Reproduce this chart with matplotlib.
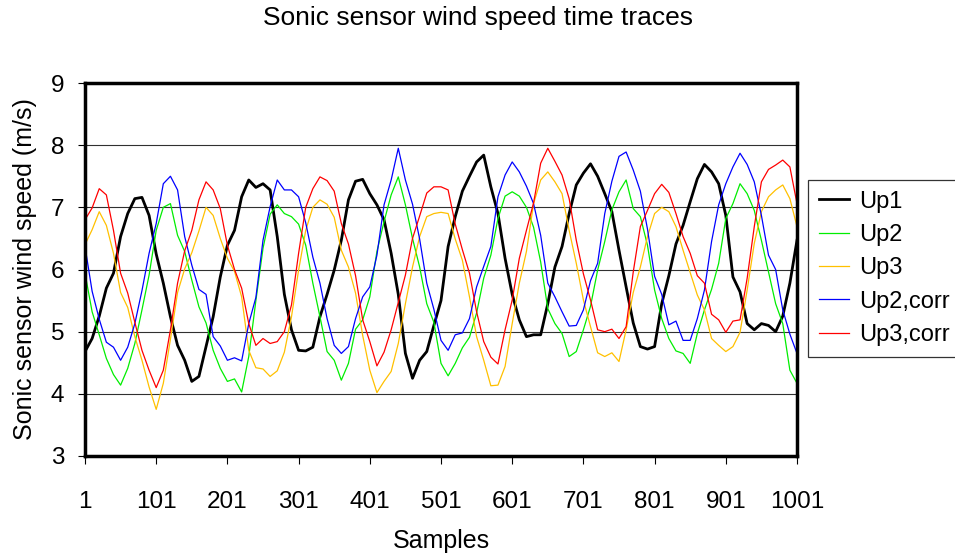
import matplotlib
matplotlib.use("Agg")
import matplotlib.pyplot as plt

plt.rcParams['font.family'] = ['Liberation Sans', 'DejaVu Sans']

samples = list(range(1, 1002, 10))

up1 = [4.68, 4.89, 5.25, 5.70, 5.94, 6.53, 6.90, 7.14, 7.16, 6.87,
       6.25, 5.78, 5.24, 4.78, 4.54, 4.20, 4.28, 4.76, 5.24, 5.88,
       6.39, 6.63, 7.17, 7.44, 7.32, 7.38, 7.28, 6.53, 5.60, 5.03,
       4.70, 4.69, 4.75, 5.24, 5.60, 5.99, 6.47, 7.12, 7.42, 7.45,
       7.22, 7.04, 6.80, 6.26, 5.60, 4.65, 4.25, 4.54, 4.68, 5.10,
       5.50, 6.37, 6.85, 7.26, 7.50, 7.73, 7.84, 7.33, 6.90, 6.18,
       5.60, 5.19, 4.92, 4.95, 4.95, 5.45, 6.04, 6.37, 6.90, 7.36,
       7.55, 7.70, 7.50, 7.22, 6.93, 6.31, 5.72, 5.14, 4.76, 4.72,
       4.76, 5.45, 5.90, 6.41, 6.71, 7.09, 7.46, 7.69, 7.57, 7.38,
       6.87, 5.88, 5.64, 5.13, 5.03, 5.13, 5.10, 5.00, 5.25, 5.78,
       6.47]
up2 = [5.94, 5.32, 4.95, 4.57, 4.31, 4.14, 4.41, 4.81, 5.35, 5.91,
       6.63, 7.00, 7.06, 6.55, 6.29, 5.83, 5.40, 5.14, 4.70, 4.41,
       4.20, 4.24, 4.03, 4.60, 5.50, 6.34, 6.89, 7.04, 6.90, 6.85,
       6.73, 6.39, 5.78, 5.24, 4.68, 4.54, 4.22, 4.49, 5.04, 5.19,
       5.56, 6.29, 6.77, 7.20, 7.49, 7.04, 6.50, 6.04, 5.45, 5.15,
       4.49, 4.29, 4.49, 4.74, 4.91, 5.30, 5.86, 6.23, 6.82, 7.18,
       7.25, 7.18, 7.00, 6.68, 6.12, 5.37, 5.13, 4.97, 4.60, 4.68,
       5.03, 5.41, 5.99, 6.45, 6.96, 7.25, 7.44, 6.98, 6.85, 6.39,
       5.67, 5.21, 4.89, 4.69, 4.65, 4.49, 4.97, 5.35, 5.68, 6.10,
       6.82, 7.06, 7.38, 7.22, 6.95, 6.47, 5.96, 5.45, 5.13, 4.38,
       4.17]
up3 = [6.40, 6.64, 6.93, 6.71, 6.26, 5.63, 5.39, 4.92, 4.54, 4.11,
       3.75, 4.17, 4.88, 5.63, 6.01, 6.27, 6.62, 7.00, 6.87, 6.50,
       6.18, 5.97, 5.56, 4.70, 4.42, 4.40, 4.28, 4.37, 4.67, 5.24,
       5.99, 6.63, 7.00, 7.12, 7.05, 6.84, 6.31, 6.04, 5.62, 4.94,
       4.38, 4.02, 4.20, 4.36, 4.81, 5.45, 6.04, 6.53, 6.85, 6.90,
       6.92, 6.90, 6.49, 6.15, 5.56, 4.92, 4.54, 4.13, 4.14, 4.44,
       5.13, 5.78, 6.29, 7.06, 7.44, 7.57, 7.41, 7.22, 6.63, 6.10,
       5.51, 5.08, 4.66, 4.60, 4.66, 4.52, 5.03, 5.63, 6.04, 6.53,
       6.90, 7.00, 6.93, 6.69, 6.31, 5.95, 5.59, 5.35, 4.89, 4.78,
       4.68, 4.76, 4.99, 5.67, 6.42, 6.93, 7.17, 7.28, 7.36, 7.14,
       6.69]
up2_corr = [6.37, 5.65, 5.20, 4.83, 4.75, 4.54, 4.75, 5.13, 5.66, 6.26,
            6.74, 7.38, 7.50, 7.28, 6.53, 6.07, 5.68, 5.60, 4.92, 4.77,
            4.54, 4.58, 4.53, 5.13, 5.55, 6.47, 7.01, 7.44, 7.28, 7.28,
            7.17, 6.75, 6.20, 5.78, 5.21, 4.78, 4.65, 4.76, 5.21, 5.56,
            5.72, 6.23, 7.04, 7.44, 7.95, 7.44, 7.05, 6.49, 5.78, 5.36,
            4.86, 4.70, 4.95, 4.98, 5.21, 5.72, 6.05, 6.37, 7.17, 7.52,
            7.73, 7.57, 7.34, 7.06, 6.55, 5.78, 5.56, 5.32, 5.09, 5.10,
            5.35, 5.82, 6.10, 6.90, 7.42, 7.82, 7.89, 7.60, 7.26, 6.65,
            5.89, 5.60, 5.11, 5.17, 4.86, 4.86, 5.21, 5.67, 6.45, 7.04,
            7.38, 7.65, 7.87, 7.69, 7.41, 6.87, 6.23, 6.00, 5.35, 4.96,
            4.65]
up3_corr = [6.80, 6.99, 7.30, 7.20, 6.63, 5.94, 5.62, 5.15, 4.70, 4.38,
            4.10, 4.38, 5.03, 5.78, 6.30, 6.63, 7.12, 7.41, 7.28, 6.98,
            6.39, 6.00, 5.70, 5.13, 4.78, 4.89, 4.81, 4.84, 5.00, 5.43,
            6.26, 7.00, 7.30, 7.49, 7.43, 7.26, 6.74, 6.41, 5.90, 5.19,
            4.84, 4.45, 4.67, 5.03, 5.47, 5.91, 6.50, 6.86, 7.23, 7.33,
            7.33, 7.28, 6.73, 6.32, 5.94, 5.32, 4.84, 4.59, 4.48, 5.03,
            5.51, 6.18, 6.63, 7.07, 7.71, 7.95, 7.74, 7.52, 7.14, 6.47,
            5.93, 5.51, 5.03, 5.00, 5.04, 4.89, 5.08, 5.96, 6.69, 6.95,
            7.22, 7.37, 7.24, 6.90, 6.53, 6.26, 5.90, 5.78, 5.28, 5.19,
            4.99, 5.17, 5.19, 5.86, 6.69, 7.41, 7.61, 7.68, 7.76, 7.65,
            7.06]

series_names = ['Up1', 'Up2', 'Up3', 'Up2,corr', 'Up3,corr']
x_ticks = [1, 101, 201, 301, 401, 501, 601, 701, 801, 901, 1001]
y_ticks = [3, 4, 5, 6, 7, 8, 9]

fig = plt.figure(figsize=(9.55, 5.53), dpi=100)
ax = fig.add_axes([85 / 955, 1 - 456 / 553, 712 / 955, 373 / 553])

styles = [('#000000', 2.0), ('#00EE00', 0.9), ('#FFC000', 0.9),
          ('#0000FF', 0.9), ('#FF0000', 0.9)]
for name, vals, (c, lw) in zip(series_names, [up1, up2, up3, up2_corr, up3_corr], styles):
    ax.plot(samples, vals, color=c, lw=lw, label=name)

ax.set_xlim(1, 1001)
ax.set_ylim(3, 9)
ax.set_xticks(x_ticks)
ax.set_xticklabels([str(t) for t in x_ticks])
ax.set_yticks(y_ticks)
ax.yaxis.grid(True, color='#303030', lw=0.8)
ax.set_axisbelow(True)
for sp in ax.spines.values():
    sp.set_linewidth(2.5)
    sp.set_color('black')
ax.tick_params(axis='x', length=6, width=0.8, pad=19, labelsize=17.5)
ax.tick_params(axis='y', length=5, width=0.8, pad=10, labelsize=17.5)

ax.set_xlabel('Samples', fontsize=18, labelpad=12)
ax.set_ylabel('Sonic sensor wind speed (m/s)', fontsize=18, labelpad=10)
fig.text(0.5, 1 - 18 / 553, 'Sonic sensor wind speed time traces',
         ha='center', va='center', fontsize=19)

leg = ax.legend(loc='upper left', bbox_to_anchor=(808 / 955, 1 - 180 / 553),
                bbox_transform=fig.transFigure, frameon=True, fancybox=False,
                edgecolor='black', fontsize=17, handlelength=1.3,
                handletextpad=0.4, labelspacing=0.48, borderpad=0.45,
                borderaxespad=0)
leg.get_frame().set_linewidth(0.9)

fig.savefig('out.png', dpi=100)
